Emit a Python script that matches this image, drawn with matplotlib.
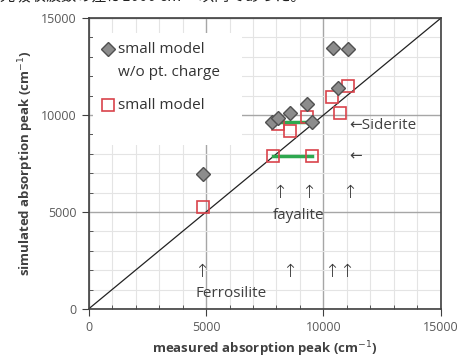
import numpy as np
import matplotlib.pyplot as plt
from matplotlib.ticker import MultipleLocator
from matplotlib.patches import Rectangle

# small model w/o point charge (gray diamonds)
meas_nopc = [4885, 7795, 8077, 8574, 9310, 9497, 10630, 10390, 11055]
sim_nopc = [6943, 9624, 9830, 10088, 10567, 9624, 11376, 13469, 13402]

# small model (red squares)
meas_sm = [4885, 7838, 9497, 8077, 8574, 9282, 10348, 11055, 10702]
sim_sm = [5273, 7887, 7887, 9536, 9191, 9912, 10943, 11495, 10088]

# green bars (fayalite pairs)
green_x = [[7850, 9500], [8000, 9280]]
green_y = [[7887, 7887], [9655, 9655]]

# arrows marking measured peaks
fayalite_arrows = [8119, 9353, 11128]
ferro_arrows = [4815, 8574, 10348, 10986]

plt.rcParams['font.family'] = ['Open Sans', 'DejaVu Sans']

fig = plt.figure(figsize=(4.62, 3.61), dpi=100)
ax = fig.add_axes([0.1916, 0.144, 0.7629, 0.806])

# clipped caption line at the very top (cut off in the original too)
fig.text(0.0, 1.012, "光吸収波数の差は1000 cm⁻¹ 以内であった。", fontsize=11,
         va='center', ha='left', color='#222222',
         family=['Noto Sans CJK JP', 'DejaVu Sans'])

ax.set_xlim(0, 15000)
ax.set_ylim(0, 15000)
ax.xaxis.set_major_locator(MultipleLocator(5000))
ax.yaxis.set_major_locator(MultipleLocator(5000))
ax.xaxis.set_minor_locator(MultipleLocator(1000))
ax.yaxis.set_minor_locator(MultipleLocator(1000))
ax.grid(True, which='major', color='#a6a6a6', lw=1.0)
ax.grid(True, which='minor', color='#e4e4e4', lw=0.8)
ax.set_axisbelow(True)
ax.tick_params(which='major', direction='out', length=5, color='#404040',
               labelsize=9, labelcolor='#595959')
ax.tick_params(which='minor', direction='in', length=3, color='#404040')
for s in ax.spines.values():
    s.set_color('#404040')
    s.set_linewidth(1.2)

ax.plot([0, 15000], [0, 15000], color='#222222', lw=0.9, zorder=2)

for gx, gy in zip(green_x, green_y):
    ax.plot(gx, gy, color='#2ea84f', lw=2.5, zorder=3)

ax.plot(meas_sm, sim_sm, 's', ms=8, mfc='none', mec='#d9434b', mew=1.2, zorder=4)
ax.plot(meas_nopc, sim_nopc, 'D', ms=7.5, mfc='#8c8c8c', mec='#505050',
        mew=1.0, zorder=5)

for x in fayalite_arrows:
    ax.text(x, 5963, '↑', ha='center', va='center', fontsize=13,
            color='#333333', family='DejaVu Sans', fontweight='light')
for x in ferro_arrows:
    ax.text(x, 1923, '↑', ha='center', va='center', fontsize=13,
            color='#333333', family='DejaVu Sans', fontweight='light')
ax.text(8957, 4845, 'fayalite', ha='center', va='center', fontsize=11, color='#404040')
ax.text(6064, 825, 'Ferrosilite', ha='center', va='center', fontsize=11, color='#404040')
ax.text(11100, 9485, '←Siderite', ha='left', va='center', fontsize=11, color='#404040')
ax.text(11100, 7850, '←', ha='left', va='center', fontsize=11, color='#404040')

# legend drawn by hand (white box hides the grid behind it)
ax.add_patch(Rectangle((0.014, 0.565), 0.421, 0.385, transform=ax.transAxes,
                       facecolor='white', edgecolor='none', zorder=1.5))
ax.plot([0.055], [0.893], 'D', ms=7.5, mfc='#8c8c8c', mec='#505050', mew=1.0,
        transform=ax.transAxes, zorder=6)
ax.plot([0.055], [0.701], 's', ms=8, mfc='none', mec='#d9434b', mew=1.2,
        transform=ax.transAxes, zorder=6)
ax.text(0.084, 0.893, 'small model', transform=ax.transAxes, fontsize=11,
        va='center', ha='left', color='#333333')
ax.text(0.084, 0.814, 'w/o pt. charge', transform=ax.transAxes, fontsize=11,
        va='center', ha='left', color='#333333')
ax.text(0.084, 0.701, 'small model', transform=ax.transAxes, fontsize=11,
        va='center', ha='left', color='#333333')

ax.set_xlabel('measured absorption peak (cm$^{-1}$)', fontsize=9.5,
              fontweight='bold', color='#404040')
ax.set_ylabel('simulated absorption peak (cm$^{-1}$)', fontsize=9.5,
              fontweight='bold', color='#404040')

fig.savefig('out.png', dpi=100)
